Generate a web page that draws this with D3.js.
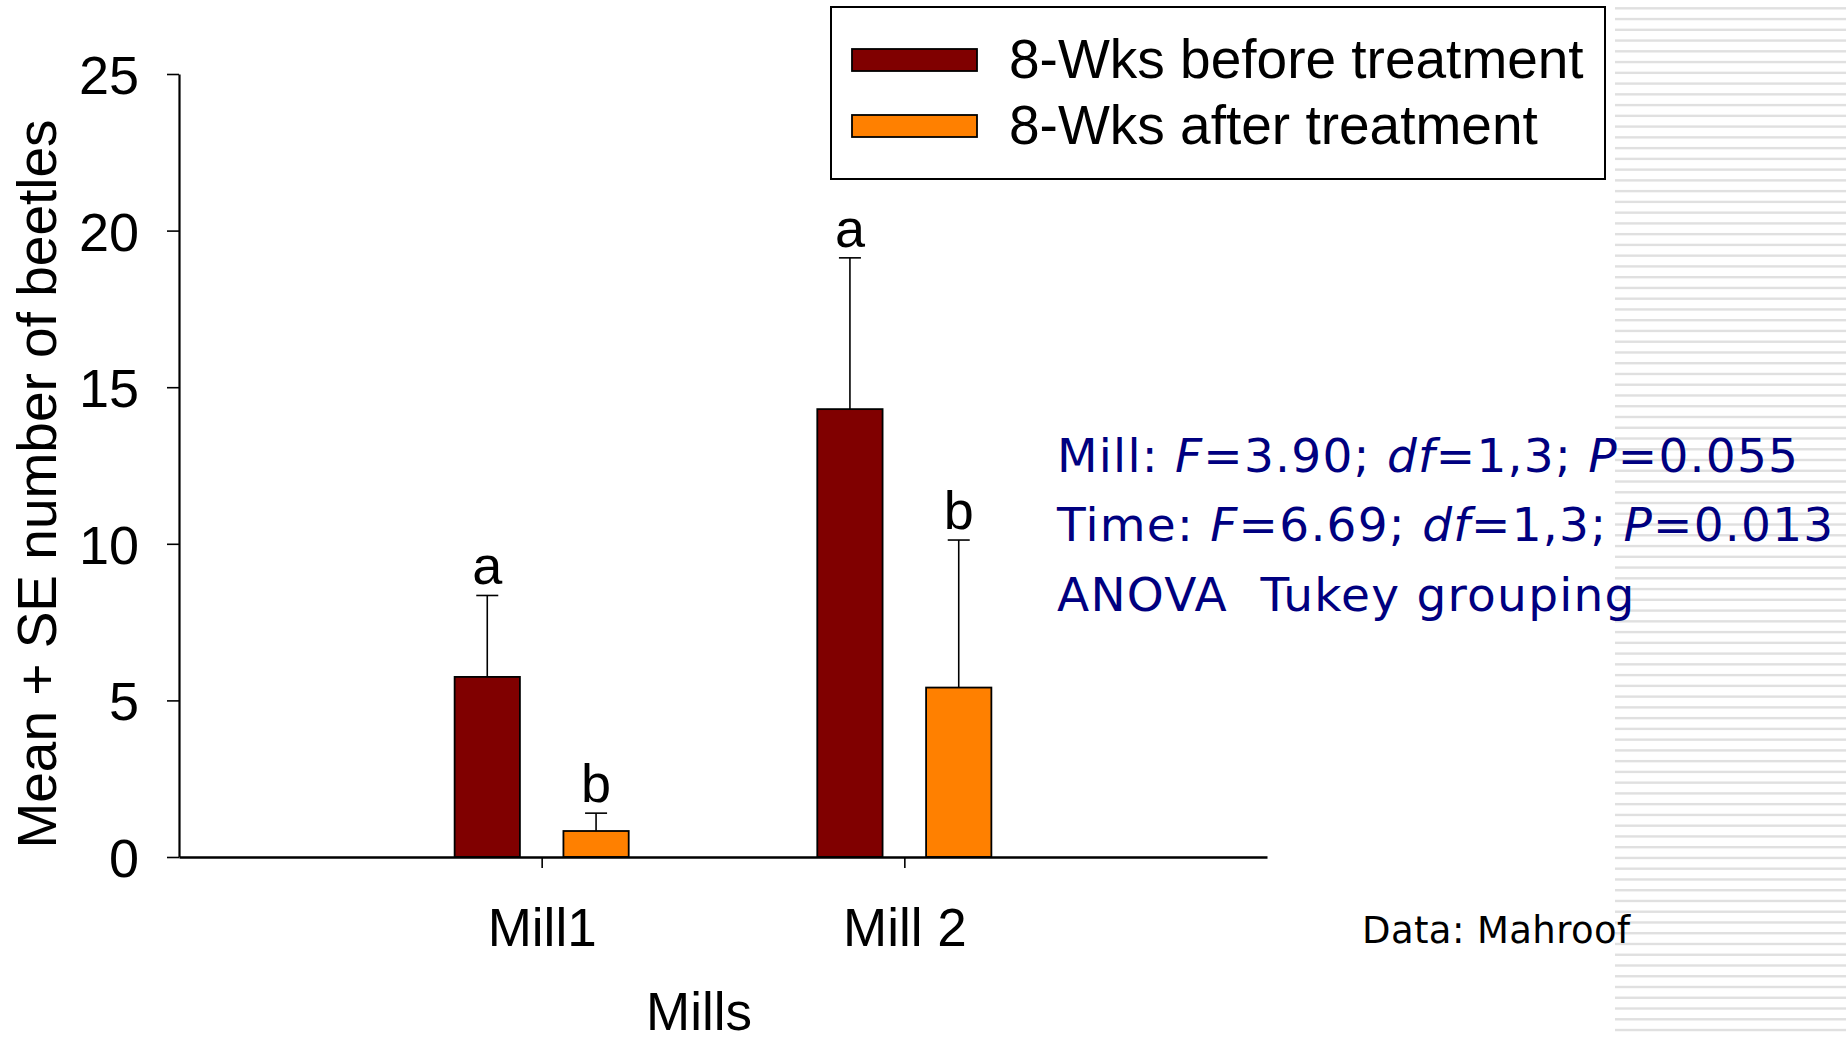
<!DOCTYPE html>
<html>
<head>
<meta charset="utf-8">
<script src="https://cdn.jsdelivr.net/npm/d3@7"></script>
<style>
  html, body { margin: 0; padding: 0; background: #ffffff; }
  svg { display: block; }
</style>
</head>
<body>
<svg id="chart" width="1846" height="1039"></svg>
<script>
// Beetle counts per mill, 8 weeks before and after treatment (mean + SE)
const categories = ["Mill1", "Mill 2"];
const seriesNames = ["8-Wks before treatment", "8-Wks after treatment"];
const beforeMean = [5.75, 14.3];
const beforeSE = [2.6, 4.83];
const afterMean = [0.83, 5.41];
const afterSE = [0.57, 4.71];
const beforeGroup = ["a", "a"];
const afterGroup = ["b", "b"];
const yTicks = [0, 5, 10, 15, 20, 25];
const statLines = [
  [["Mill: ", false], ["F", true], ["=3.90; ", false], ["df", true], ["=1,3; ", false], ["P", true], ["=0.055", false]],
  [["Time: ", false], ["F", true], ["=6.69; ", false], ["df", true], ["=1,3; ", false], ["P", true], ["=0.013", false]],
  [["ANOVA\u00a0\u00a0Tukey grouping", false]]
];
const sourceNote = "Data: Mahroof";

const colors = ["#800000", "#ff8000"];
const sans = "'Liberation Sans', Arial, sans-serif";
const statFont = "'DejaVu Sans', Verdana, sans-serif";

const svg = d3.select("#chart");
svg.append("rect").attr("width", 1846).attr("height", 1039).attr("fill", "#ffffff");

// Striped panel along the right edge
const stripes = svg.append("g");
stripes.selectAll("rect")
  .data(d3.range(8.3, 1039, 10.755))
  .join("rect")
  .attr("x", 1615).attr("width", 231)
  .attr("y", d => d - 1.2).attr("height", 2.4)
  .attr("fill", "#e0e0e0");

// Scales: categories sit at 1 and 2 on a 0..3 axis
const x = d3.scaleLinear().domain([0, 3]).range([179, 1267]);
const y = d3.scaleLinear().domain([0, 25]).range([857, 74]);
const barW = x(0.18) - x(0);
const offset = 0.15;

const rows = categories.map((c, i) => ([
  { cat: i + 1, s: 0, mean: beforeMean[i], se: beforeSE[i], grp: beforeGroup[i] },
  { cat: i + 1, s: 1, mean: afterMean[i], se: afterSE[i], grp: afterGroup[i] }
])).flat();
const cx = d => x(d.cat + (d.s === 0 ? -offset : offset));

// Error bars (upper only)
const err = svg.append("g").attr("stroke", "#000").attr("stroke-width", 1.6);
err.selectAll("line.v").data(rows).join("line").attr("class", "v")
  .attr("x1", cx).attr("x2", cx)
  .attr("y1", d => y(d.mean)).attr("y2", d => y(d.mean + d.se));
err.selectAll("line.cap").data(rows).join("line").attr("class", "cap")
  .attr("x1", d => cx(d) - 11).attr("x2", d => cx(d) + 11)
  .attr("y1", d => y(d.mean + d.se)).attr("y2", d => y(d.mean + d.se));

// Bars
svg.append("g").selectAll("rect").data(rows).join("rect")
  .attr("x", d => cx(d) - barW / 2)
  .attr("width", barW)
  .attr("y", d => y(d.mean))
  .attr("height", d => y(0) - y(d.mean))
  .attr("fill", d => colors[d.s])
  .attr("stroke", "#000").attr("stroke-width", 1.8);

// Tukey group letters
svg.append("g").selectAll("text").data(rows).join("text")
  .attr("x", cx)
  .attr("y", d => y(d.mean + d.se) - 11)
  .attr("text-anchor", "middle")
  .attr("font-family", sans).attr("font-size", 54)
  .attr("fill", "#000")
  .text(d => d.grp);

// Y axis
const yAxis = svg.append("g").attr("transform", `translate(${x(0)},0)`)
  .call(d3.axisLeft(y).tickValues(yTicks).tickFormat(d3.format("d"))
    .tickSize(12).tickSizeOuter(0).tickPadding(28));
yAxis.select(".domain").attr("stroke", "#000").attr("stroke-width", 2.2);
yAxis.selectAll(".tick line").attr("stroke", "#000").attr("stroke-width", 1.6);
yAxis.selectAll(".tick text")
  .attr("font-family", sans).attr("font-size", 54).attr("fill", "#000")
  .attr("dy", "0.36em");

// X axis
const xAxis = svg.append("g").attr("transform", `translate(0,${y(0)})`)
  .call(d3.axisBottom(x).tickValues([1, 2]).tickFormat(d => categories[d - 1])
    .tickSize(11).tickSizeOuter(0).tickPadding(40));
xAxis.select(".domain").attr("stroke", "#000").attr("stroke-width", 2.4);
xAxis.selectAll(".tick line").attr("stroke", "#000").attr("stroke-width", 1.6);
xAxis.selectAll(".tick text")
  .attr("font-family", sans).attr("font-size", 53).attr("fill", "#000")
  .attr("dy", "0.71em");

// Axis titles
svg.append("text")
  .attr("transform", "translate(56,484) rotate(-90)")
  .attr("text-anchor", "middle")
  .attr("font-family", sans).attr("font-size", 55).attr("fill", "#000")
  .text("Mean + SE number of beetles");
svg.append("text")
  .attr("x", 699).attr("y", 1030)
  .attr("text-anchor", "middle")
  .attr("font-family", sans).attr("font-size", 53).attr("fill", "#000")
  .text("Mills");

// Legend
const legend = svg.append("g");
legend.append("rect")
  .attr("x", 831).attr("y", 7).attr("width", 774).attr("height", 172)
  .attr("fill", "#ffffff").attr("stroke", "#000").attr("stroke-width", 2);
const items = legend.selectAll("g.item").data(seriesNames).join("g").attr("class", "item")
  .attr("transform", (d, i) => `translate(0,${i * 66})`);
items.append("rect")
  .attr("x", 852).attr("y", 49).attr("width", 125).attr("height", 22)
  .attr("fill", (d, i) => colors[i]).attr("stroke", "#000").attr("stroke-width", 1.8);
items.append("text")
  .attr("x", 1009).attr("y", 78)
  .attr("font-family", sans).attr("font-size", 55).attr("fill", "#000")
  .text(d => d);

// ANOVA summary
const stats = svg.append("g")
  .attr("font-family", statFont).attr("font-size", 47).attr("fill", "#000080")
  .attr("letter-spacing", 1.25);
statLines.forEach((parts, i) => {
  const t = stats.append("text").attr("x", 1057).attr("y", 471.5 + i * 69.8)
    .attr("xml:space", "preserve");
  parts.forEach(([s, it]) => {
    t.append("tspan").attr("font-style", it ? "italic" : "normal").text(s);
  });
});

svg.append("text")
  .attr("x", 1362).attr("y", 942.5)
  .attr("font-family", statFont).attr("font-size", 37).attr("fill", "#000")
  .attr("letter-spacing", 0.4)
  .text(sourceNote);
</script>
</body>
</html>
